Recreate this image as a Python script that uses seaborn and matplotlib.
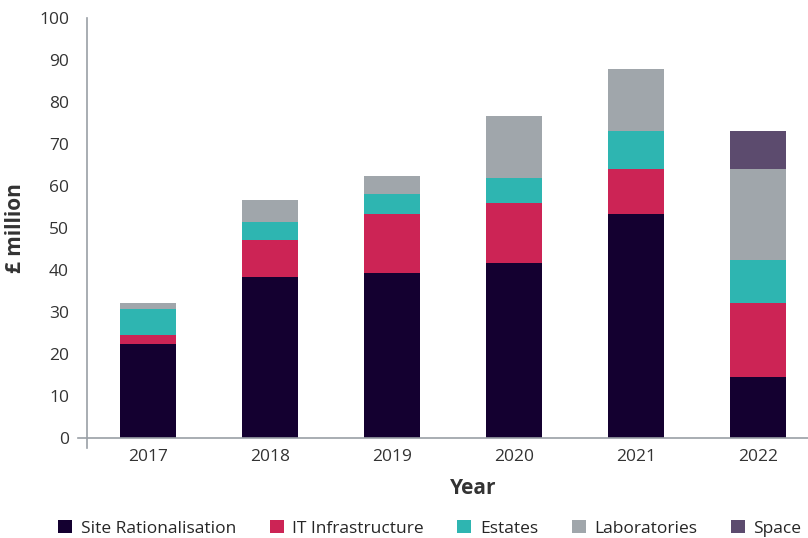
import numpy as np
import pandas as pd
import matplotlib
matplotlib.use("Agg")
import matplotlib.pyplot as plt
import seaborn as sns
from matplotlib.patches import Patch

years = ["2017", "2018", "2019", "2020", "2021", "2022"]
site = [22.4, 38.3, 39.3, 41.7, 53.3, 14.5]
it_infra = [2.1, 8.8, 14.0, 14.3, 10.7, 17.6]
estates = [6.2, 4.3, 4.8, 5.9, 9.1, 10.3]
labs = [1.4, 5.3, 4.3, 14.8, 14.8, 21.6]
space = [0, 0, 0, 0, 0, 9.1]

series = ["Site Rationalisation", "IT Infrastructure", "Estates", "Laboratories", "Space"]
colors = ["#140030", "#CC2455", "#2EB5B1", "#A0A6AB", "#5C4B6E"]

sns.set_theme(style="white")
plt.rcParams['font.family'] = ['Open Sans', 'DejaVu Sans']

df = pd.DataFrame({"Year": years, series[0]: site, series[1]: it_infra,
                   series[2]: estates, series[3]: labs, series[4]: space})
cum = df[series].cumsum(axis=1)

fig = plt.figure(figsize=(8.08, 5.38), dpi=100)
ax = fig.add_axes([0.1077, 0.1859, 0.8923, 0.7806])

for s, c in reversed(list(zip(series, colors))):
    sns.barplot(x=df["Year"], y=cum[s], color=c, width=0.46, ax=ax,
                saturation=1, linewidth=0)

ax.set_ylim(0, 100)
ax.set_xlim(-0.5, 5.41)
ax.set_yticks(range(0, 101, 10))
ax.tick_params(axis='both', labelsize=12.5, colors='#333333', length=0)
ax.tick_params(axis='y', pad=13)
ax.tick_params(axis='x', pad=8)
for sp in ["top", "right"]:
    ax.spines[sp].set_visible(False)
for sp in ["left", "bottom"]:
    ax.spines[sp].set_color("#9aa0a6")
    ax.spines[sp].set_linewidth(1.2)
ax.spines["left"].set_bounds(-2.4, 100)
ax.spines["bottom"].set_bounds(-0.574, 5.41)

ax.set_ylabel("£ million", fontsize=15, fontweight='bold', color='#333333')
ax.yaxis.set_label_coords(-0.084, 0.5)
ax.set_xlabel("Year", fontsize=15, fontweight='bold', color='#333333')
ax.xaxis.set_label_coords(0.535, -0.095)

handles = [Patch(facecolor=c, edgecolor='none', label=s) for s, c in zip(series, colors)]
fig.legend(handles=handles, loc='center', bbox_to_anchor=(0.532, 0.018), ncol=5,
           frameon=False, fontsize=12.5, handlelength=0.8, handleheight=0.8,
           handletextpad=0.5, columnspacing=1.93, borderaxespad=0)

fig.savefig("out.png", dpi=100)
